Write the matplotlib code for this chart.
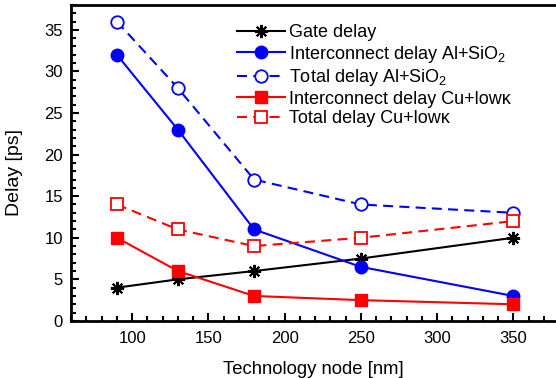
import matplotlib.pyplot as plt
from matplotlib.ticker import MultipleLocator

plt.rcParams['font.family'] = ['Liberation Sans', 'DejaVu Sans']
plt.rcParams['mathtext.fontset'] = 'custom'
plt.rcParams['mathtext.rm'] = 'Liberation Sans'
plt.rcParams['mathtext.it'] = 'Liberation Sans:italic'

node = [90, 130, 180, 250, 350]
gate = [4, 5, 6, 7.5, 10]
inter_al = [32, 23, 11, 6.5, 3]
total_al = [36, 28, 17, 14, 13]
inter_cu = [10, 6, 3, 2.5, 2]
total_cu = [14, 11, 9, 10, 12]

fig = plt.figure(figsize=(5.56, 3.78), dpi=100)
ax = fig.add_axes([0.128, 0.151, 0.872, 0.836])

dash = (0, (4.8, 3))
ax.plot(node, gate, color='black', lw=1.5, marker=(8, 2, 0), ms=9.5, mew=1.5,
        label='Gate delay')
ax.plot(node, inter_al, color='blue', lw=1.5, marker='o', ms=9,
        label='Interconnect delay Al+SiO$_2$')
ax.plot(node, total_al, color='blue', lw=1.5, ls=dash, marker='o', ms=9,
        mfc='white', mew=1.3, label='Total delay Al+SiO$_2$')
ax.plot(node, inter_cu, color='red', lw=1.5, marker='s', ms=8,
        label='Interconnect delay Cu+low\u03ba')
ax.plot(node, total_cu, color='red', lw=1.5, ls=dash, marker='s', ms=8,
        mfc='white', mew=1.3, label='Total delay Cu+low\u03ba')

ax.set_xlim(60, 378)
ax.set_ylim(0, 38)
ax.xaxis.set_major_locator(MultipleLocator(50))
ax.xaxis.set_minor_locator(MultipleLocator(10))
ax.yaxis.set_major_locator(MultipleLocator(5))
ax.yaxis.set_minor_locator(MultipleLocator(1))
ax.tick_params(which='both', direction='in', top=False, right=False, width=1.5,
               labelsize=12)
ax.tick_params(axis='x', pad=7)
ax.tick_params(axis='y', pad=6)
ax.tick_params(which='major', length=6)
ax.tick_params(which='minor', length=3.5)
for s in ['left', 'bottom', 'top']:
    ax.spines[s].set_linewidth(2)
ax.spines['right'].set_visible(False)

ax.set_xlabel('Technology node [nm]', fontsize=13.3, labelpad=11)
ax.set_ylabel('Delay [ps]', fontsize=14)
ax.yaxis.set_label_coords(-0.099, 0.47)

ax.legend(loc='upper left', frameon=False, fontsize=13, handlelength=2.67,
          handletextpad=0.22, labelspacing=0.14, borderpad=0, borderaxespad=0,
          bbox_to_anchor=(237 / 556, 1 - 24 / 378), bbox_transform=fig.transFigure)

fig.savefig('out.png', dpi=100)
